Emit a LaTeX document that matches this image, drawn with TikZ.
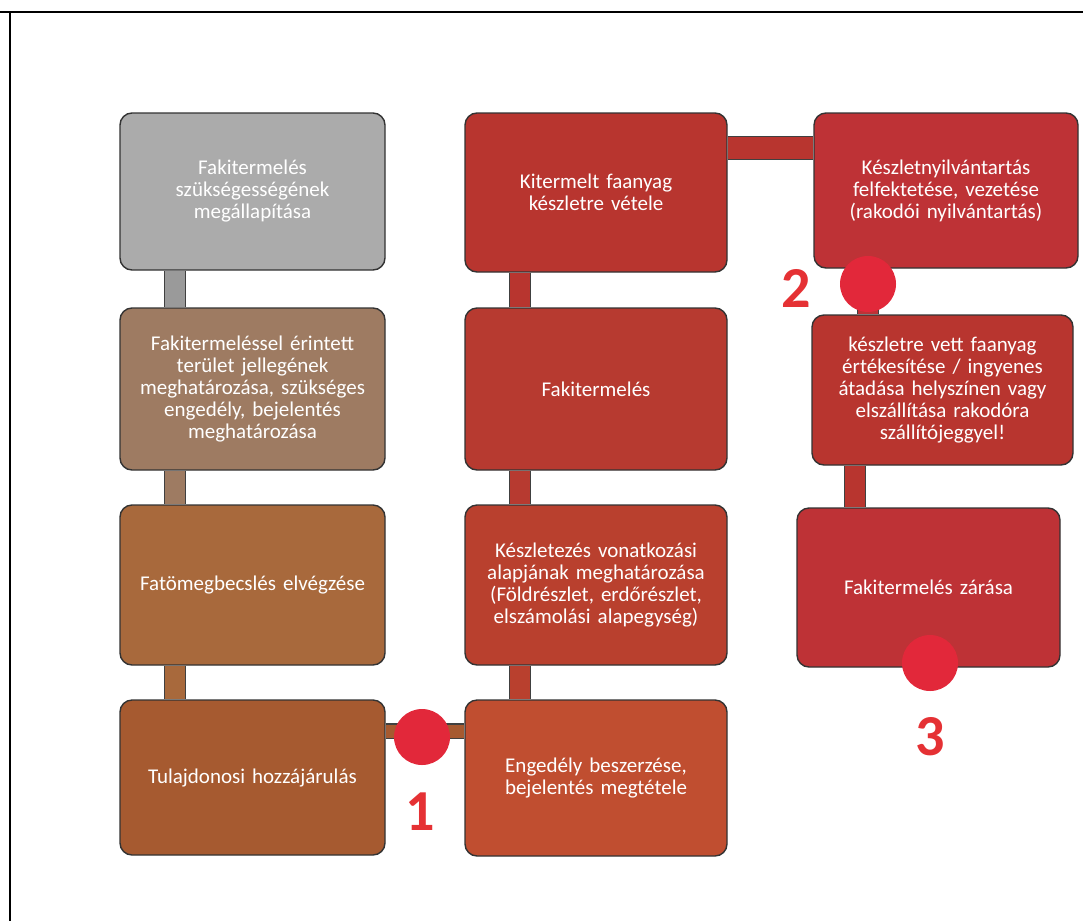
\documentclass[tikz,border=0pt]{standalone}
\usepackage{fontspec}
\setmainfont{Carlito}
\usetikzlibrary{backgrounds}
\definecolor{szurke}{HTML}{ABABAB}
\definecolor{barna1}{HTML}{9E7B62}
\definecolor{barna2}{HTML}{A8693C}
\definecolor{barna3}{HTML}{A65A30}
\definecolor{narancs}{HTML}{C04E30}
\definecolor{piros1}{HTML}{B8352F}
\definecolor{piros2}{HTML}{B73A30}
\definecolor{piros3}{HTML}{B9402E}
\definecolor{piros4}{HTML}{BE3236}
\definecolor{pont}{HTML}{E2283A}
\tikzset{
  lepes/.style={draw=black!80, line width=1.4pt, rounded corners=12pt, text=white,
    align=center, text width=250pt, inner sep=0pt,
    font=\fontsize{21}{22}\selectfont},
  rud/.style={line width=1.2pt, draw=black!75, double distance=20pt},
  pottyos/.style={circle, fill=pont, minimum size=56pt, inner sep=0pt},
  szam/.style={text=pont!90!orange, font=\fontsize{58}{58}\selectfont\bfseries}
}
\begin{document}
\begin{tikzpicture}[x=1pt,y=-1pt]
\useasboundingbox (0,0) rectangle (1083,921);
\draw[line width=2.5pt] (0,12) -- (1083,12) (10,12) -- (10,921);
% first column
\node[lepes, fill=szurke, minimum width=265pt, minimum height=157pt] (a) at (252.5,191.5)
  {Fakitermelés\\szükségességének\\megállapítása};
\node[lepes, fill=barna1, minimum width=265pt, minimum height=162pt] (b) at (252.5,389)
  {Fakitermeléssel érintett\\terület jellegének\\meghatározása, szükséges\\engedély, bejelentés\\meghatározása};
\node[lepes, fill=barna2, minimum width=265pt, minimum height=160pt] (c) at (252.5,585)
  {Fatömegbecslés elvégzése};
\node[lepes, fill=barna3, minimum width=265pt, minimum height=155pt] (d) at (252.5,777.5)
  {Tulajdonosi hozzájárulás};
% second column
\node[lepes, fill=piros1, minimum width=262pt, minimum height=159pt] (e) at (596,192.5)
  {Kitermelt faanyag\\készletre vétele};
\node[lepes, fill=piros2, minimum width=262pt, minimum height=162pt] (f) at (596,389)
  {Fakitermelés};
\node[lepes, fill=piros3, minimum width=262pt, minimum height=160pt] (g) at (596,585)
  {Készletezés vonatkozási\\alapjának meghatározása\\(Földrészlet, erdőrészlet,\\elszámolási alapegység)};
\node[lepes, fill=narancs, minimum width=262pt, minimum height=156pt] (h) at (596,778)
  {Engedély beszerzése,\\bejelentés megtétele};
% third column
\node[lepes, fill=piros4, minimum width=264pt, minimum height=155pt] (i) at (946,190.5)
  {Készletnyilvántartás\\felfektetése, vezetése\\(rakodói nyilvántartás)};
\node[lepes, fill=piros1, minimum width=261pt, minimum height=150pt] (j) at (942.5,390)
  {készletre vett faanyag\\értékesítése / ingyenes\\átadása helyszínen vagy\\elszállítása rakodóra\\szállítójeggyel!};
\node[lepes, fill=piros4, minimum width=263pt, minimum height=159pt] (k) at (928.5,587.5)
  {Fakitermelés zárása};
% connectors
\begin{scope}[on background layer]
\draw[rud, double=szurke!90!black] (a.south -| 175,0) -- (b.north -| 175,0);
\draw[rud, double=barna1] (b.south -| 175,0) -- (c.north -| 175,0);
\draw[rud, double=barna2] (c.south -| 175,0) -- (d.north -| 175,0);
\draw[rud, double=piros1] (e.south -| 520,0) -- (f.north -| 520,0);
\draw[rud, double=piros2] (f.south -| 520,0) -- (g.north -| 520,0);
\draw[rud, double=piros3] (g.south -| 520,0) -- (h.north -| 520,0);
\draw[rud, double=barna3, double distance=13pt] (d.east |- 0,731) -- (h.west |- 0,731);
\draw[rud, double=piros1, double distance=22pt] (e.east |- 0,148) -- (i.west |- 0,148);
\draw[rud, double=piros4] (i.south -| 868,0) -- (j.north -| 868,0);
\draw[rud, double=piros1] (j.south -| 855,0) -- (k.north -| 855,0);
\end{scope}
% milestones
\node[pottyos] (p1) at (422,737) {};
\node[pottyos] (p2) at (868,284) {};
\node[pottyos] (p3) at (930,663) {};
\node[szam] (n1) at (420,812) {1};
\node[szam] (n2) at (796,288) {2};
\node[szam] (n3) at (930,737) {3};
\end{tikzpicture}
\end{document}
